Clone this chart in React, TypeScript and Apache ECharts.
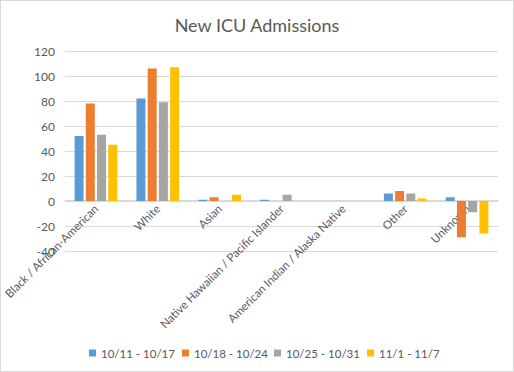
import React, { useEffect, useRef } from "react";
import * as echarts from "echarts";

const categories = [
  "Black / African-American",
  "White",
  "Asian",
  "Native Hawaiian / Pacific Islander",
  "American Indian / Alaska Native",
  "Other",
  "Unknown",
];
const seriesNames = ["10/11 - 10/17", "10/18 - 10/24", "10/25 - 10/31", "11/1 - 11/7"];
const week1 = [52, 82, 1, 1, 0, 6, 3];
const week2 = [78, 106, 3, 0, 0, 8, -29];
const week3 = [53, 79, 0, 5, 0, 6, -9];
const week4 = [45, 107, 5, 0, 0, 2, -26];
const colors = ["#5b9bd5", "#ed7d31", "#a5a5a5", "#ffc000"];
const legendLefts = [88, 181, 273, 366];

export default function App() {
  const ref = useRef<HTMLDivElement>(null);
  useEffect(() => {
    if (!ref.current) return;
    const chart = echarts.init(ref.current, undefined, { renderer: "svg" });
    const font = "Lato, 'Open Sans', sans-serif";
    const data = [week1, week2, week3, week4];
    chart.setOption({
      animation: false,
      textStyle: { fontFamily: font },
      title: {
        text: "New ICU Admissions",
        left: "center",
        top: 10,
        textStyle: { fontSize: 18, fontWeight: "normal", color: "#595959", fontFamily: font },
      },
      legend: seriesNames.map((name, i) => ({
        top: 346,
        left: legendLefts[i],
        padding: 0,
        itemWidth: 7,
        itemHeight: 7,
        icon: "rect",
        textStyle: { fontSize: 11.5, color: "#595959", fontFamily: font },
        data: [name],
      })),
      grid: { left: 64, right: 15, top: 50, bottom: 120, outerBoundsMode: "none", containLabel: false },
      xAxis: {
        type: "category",
        data: categories,
        offset: -50.5,
        axisLine: { onZero: false, lineStyle: { color: "#d9d9d9" } },
        axisTick: { show: false },
        axisLabel: { rotate: 45, interval: 0, color: "#595959", fontSize: 11.5, fontFamily: font, margin: 6 },
      },
      yAxis: {
        type: "value",
        min: -40,
        max: 120,
        interval: 20,
        axisLine: { show: false },
        axisTick: { show: false },
        splitLine: { lineStyle: { color: "#d9d9d9" } },
        axisLabel: { color: "#595959", fontSize: 12, fontFamily: font, margin: 10 },
      },
      series: seriesNames.map((name, i) => ({
        name,
        type: "bar",
        data: data[i],
        barGap: "25%",
        barCategoryGap: "31%",
        itemStyle: { color: colors[i] },
      })),
    });
    return () => chart.dispose();
  }, []);
  return (
    <div
      ref={ref}
      style={{
        position: "fixed",
        left: 0,
        top: 0,
        width: 514,
        height: 372,
        boxSizing: "border-box",
        border: "1px solid #d9d9d9",
        background: "#fff",
      }}
    />
  );
}
